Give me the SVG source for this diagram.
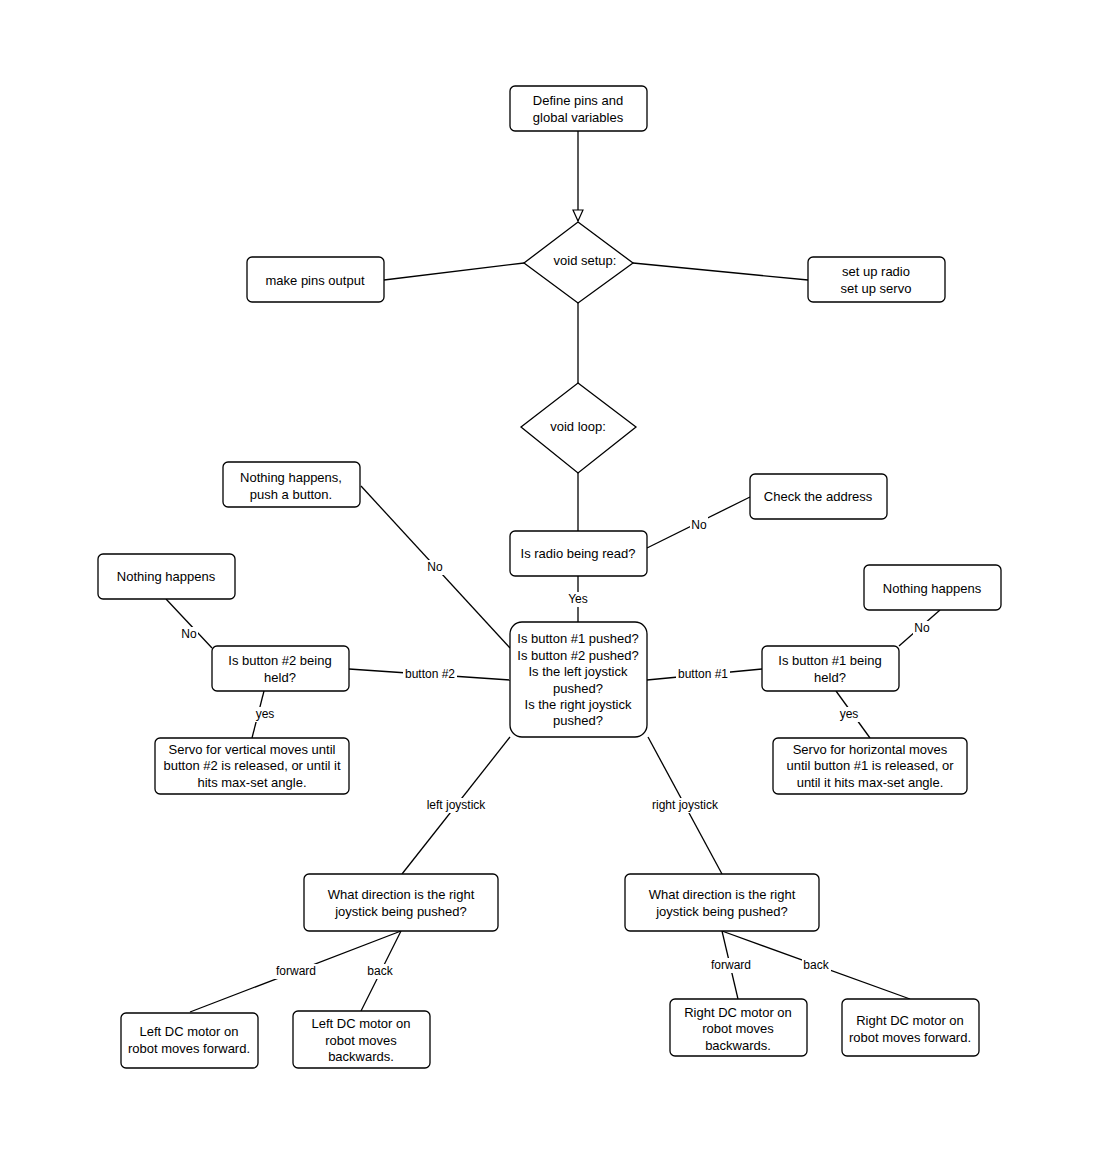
<svg xmlns="http://www.w3.org/2000/svg" width="1093" height="1162" viewBox="0 0 1093 1162">
<style>
.n{fill:#fff;stroke:#000;stroke-width:1.3}
text{font-family:"Liberation Sans",Arial,sans-serif;font-size:13px;fill:#000;text-anchor:middle;dominant-baseline:central}
.l{font-size:12px}
.c line{stroke:#000;stroke-width:1.3}
.bg{fill:#fff}
</style>
<defs><marker id="a" markerWidth="14" markerHeight="12" refX="12" refY="6" orient="auto" markerUnits="userSpaceOnUse"><path d="M1,1 L12,6 L1,11 Z" fill="#fff" stroke="#000" stroke-width="1.2"/></marker></defs>
<rect width="1093" height="1162" fill="#fff"/>
<g class="c">
<line x1="578" y1="131" x2="578" y2="221" marker-end="url(#a)"/>
<line x1="384" y1="280" x2="524" y2="263"/>
<line x1="633" y1="263" x2="808" y2="280"/>
<line x1="578" y1="303" x2="578" y2="383"/>
<line x1="578" y1="473" x2="578" y2="531"/>
<line x1="647" y1="548" x2="750" y2="497"/>
<line x1="578" y1="576" x2="578" y2="622"/>
<line x1="361" y1="486" x2="510" y2="648"/>
<line x1="349" y1="669" x2="510" y2="680"/>
<line x1="166" y1="599" x2="212" y2="648"/>
<line x1="264" y1="691" x2="252" y2="738"/>
<line x1="647" y1="680" x2="762" y2="669"/>
<line x1="940" y1="610" x2="899" y2="646"/>
<line x1="836" y1="691" x2="870" y2="738"/>
<line x1="510" y1="737" x2="402" y2="874"/>
<line x1="648" y1="737" x2="722" y2="874"/>
<line x1="401" y1="931" x2="190" y2="1012"/>
<line x1="401" y1="931" x2="361" y2="1011"/>
<line x1="722" y1="931" x2="738" y2="999"/>
<line x1="722" y1="931" x2="910" y2="999"/>
<rect class="bg" x="690" y="517" width="18" height="15"/><text class="l" x="699" y="525">No</text>
<rect class="bg" x="567" y="592" width="23" height="15"/><text class="l" x="578" y="599">Yes</text>
<rect class="bg" x="426" y="560" width="18" height="15"/><text class="l" x="435" y="567">No</text>
<rect class="bg" x="403" y="667" width="54" height="15"/><text class="l" x="430" y="674">button #2</text>
<rect class="bg" x="180" y="627" width="18" height="15"/><text class="l" x="189" y="634">No</text>
<rect class="bg" x="255" y="707" width="21" height="15"/><text class="l" x="265" y="714">yes</text>
<rect class="bg" x="676" y="667" width="54" height="15"/><text class="l" x="703" y="674">button #1</text>
<rect class="bg" x="913" y="621" width="18" height="15"/><text class="l" x="922" y="628">No</text>
<rect class="bg" x="839" y="707" width="21" height="15"/><text class="l" x="849" y="714">yes</text>
<rect class="bg" x="424" y="798" width="64" height="15"/><text class="l" x="456" y="805">left joystick</text>
<rect class="bg" x="649" y="798" width="72" height="15"/><text class="l" x="685" y="805">right joystick</text>
<rect class="bg" x="273" y="964" width="46" height="15"/><text class="l" x="296" y="971">forward</text>
<rect class="bg" x="366" y="964" width="29" height="15"/><text class="l" x="380" y="971">back</text>
<rect class="bg" x="708" y="958" width="46" height="15"/><text class="l" x="731" y="965">forward</text>
<rect class="bg" x="802" y="958" width="29" height="15"/><text class="l" x="816" y="965">back</text>
</g>
<g id="define"><rect class="n" x="510" y="86" width="137" height="45" rx="5"/><text x="578" y="100">Define pins and</text><text x="578" y="117">global variables</text></g>
<g id="setup"><path class="n" d="M578,222 L633,263 L578,303 L524,263 Z"/><text x="585" y="260">void setup:</text></g>
<g id="pins"><rect class="n" x="247" y="257" width="137" height="45" rx="5"/><text x="315" y="280">make pins output</text></g>
<g id="radio"><rect class="n" x="808" y="257" width="137" height="45" rx="5"/><text x="876" y="271">set up radio</text><text x="876" y="288">set up servo</text></g>
<g id="loop"><path class="n" d="M578,383 L636,427 L578,473 L521,427 Z"/><text x="578" y="426">void loop:</text></g>
<g id="read"><rect class="n" x="510" y="531" width="137" height="45" rx="5"/><text x="578" y="553">Is radio being read?</text></g>
<g id="addr"><rect class="n" x="750" y="474" width="137" height="45" rx="5"/><text x="818" y="496">Check the address</text></g>
<g id="center"><rect class="n" x="510" y="622" width="137" height="115" rx="12"/><text x="578" y="638">Is button #1 pushed?</text><text x="578" y="655">Is button #2 pushed?</text><text x="578" y="671">Is the left joystick</text><text x="578" y="688">pushed?</text><text x="578" y="704">Is the right joystick</text><text x="578" y="720">pushed?</text></g>
<g id="nothing1"><rect class="n" x="223" y="462" width="137" height="45" rx="5"/><text x="291" y="477">Nothing happens,</text><text x="291" y="494">push a button.</text></g>
<g id="b2"><rect class="n" x="212" y="646" width="137" height="45" rx="5"/><text x="280" y="660">Is button #2 being</text><text x="280" y="677">held?</text></g>
<g id="nothing2"><rect class="n" x="98" y="554" width="137" height="45" rx="5"/><text x="166" y="576">Nothing happens</text></g>
<g id="servoV"><rect class="n" x="155" y="738" width="194" height="56" rx="5"/><text x="252" y="749">Servo for vertical moves until</text><text x="252" y="765">button #2 is released, or until it</text><text x="252" y="782">hits max-set angle.</text></g>
<g id="b1"><rect class="n" x="762" y="646" width="137" height="45" rx="5"/><text x="830" y="660">Is button #1 being</text><text x="830" y="677">held?</text></g>
<g id="nothing3"><rect class="n" x="864" y="565" width="137" height="45" rx="5"/><text x="932" y="588">Nothing happens</text></g>
<g id="servoH"><rect class="n" x="773" y="738" width="194" height="56" rx="5"/><text x="870" y="749">Servo for horizontal moves</text><text x="870" y="765">until button #1 is released, or</text><text x="870" y="782">until it hits max-set angle.</text></g>
<g id="dirL"><rect class="n" x="304" y="874" width="194" height="57" rx="5"/><text x="401" y="894">What direction is the right</text><text x="401" y="911">joystick being pushed?</text></g>
<g id="dirR"><rect class="n" x="625" y="874" width="194" height="57" rx="5"/><text x="722" y="894">What direction is the right</text><text x="722" y="911">joystick being pushed?</text></g>
<g id="lf"><rect class="n" x="121" y="1013" width="137" height="55" rx="5"/><text x="189" y="1031">Left DC motor on</text><text x="189" y="1048">robot moves forward.</text></g>
<g id="lb"><rect class="n" x="293" y="1011" width="137" height="57" rx="5"/><text x="361" y="1023">Left DC motor on</text><text x="361" y="1040">robot moves</text><text x="361" y="1056">backwards.</text></g>
<g id="rb"><rect class="n" x="670" y="999" width="137" height="57" rx="5"/><text x="738" y="1012">Right DC motor on</text><text x="738" y="1028">robot moves</text><text x="738" y="1045">backwards.</text></g>
<g id="rf"><rect class="n" x="842" y="999" width="137" height="57" rx="5"/><text x="910" y="1020">Right DC motor on</text><text x="910" y="1037">robot moves forward.</text></g>
</svg>
